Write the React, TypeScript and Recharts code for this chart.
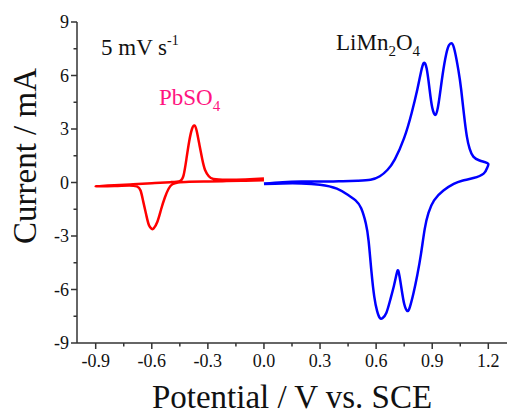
import { LineChart, Line, XAxis, YAxis } from "recharts";

// PbSO4 loop: cathodic sweep 0.0 -> -0.9, then anodic back to 0.0
const redPotential = [
  0.0, -0.1, -0.2, -0.3, -0.4, -0.46, -0.49, -0.51, -0.53, -0.55, -0.57, -0.59, -0.6, -0.615, -0.63, -0.645,
  -0.66, -0.68, -0.72, -0.8, -0.9,
  -0.8, -0.7, -0.6, -0.5, -0.45, -0.43, -0.415, -0.4, -0.385, -0.372, -0.36, -0.345, -0.33, -0.315, -0.295,
  -0.27, -0.2, -0.1, 0.0,
];
const redCurrent = [
  0.12, 0.1, 0.08, 0.06, 0.04, 0.0, -0.1, -0.35, -0.84, -1.5, -2.2, -2.58, -2.6, -2.4, -1.8, -1.1,
  -0.45, -0.22, -0.17, -0.2, -0.22,
  -0.15, -0.1, -0.04, 0.02, 0.08, 0.4, 1.3, 2.3, 3.0, 3.2, 2.9, 2.1, 1.3, 0.7, 0.35,
  0.2, 0.15, 0.17, 0.22,
];

// LiMn2O4 loop: anodic sweep 0.0 -> 1.2, then cathodic back to 0.0
const bluePotential = [
  0.0, 0.1, 0.2, 0.3, 0.4, 0.5, 0.57, 0.62, 0.66, 0.7, 0.75, 0.79, 0.82, 0.84, 0.855, 0.87, 0.885, 0.9,
  0.918, 0.935, 0.955, 0.975, 0.99, 1.005, 1.02, 1.04, 1.055, 1.07, 1.085, 1.1, 1.12, 1.15, 1.18, 1.2,
  1.195, 1.175, 1.12, 1.06, 1.015, 0.96, 0.91, 0.88, 0.86, 0.84, 0.82, 0.8, 0.78, 0.766, 0.75, 0.735,
  0.72, 0.71, 0.695, 0.675, 0.655, 0.635, 0.62, 0.605, 0.59, 0.575, 0.56, 0.545, 0.52, 0.49, 0.45, 0.39,
  0.3, 0.2, 0.1, 0.0,
];
const blueCurrent = [
  -0.06, 0.02, 0.05, 0.05, 0.07, 0.1, 0.15, 0.35, 0.7, 1.3, 2.5, 3.9, 5.2, 6.2, 6.7, 6.4, 5.3, 4.2,
  3.8, 4.5, 6.0, 7.2, 7.7, 7.8, 7.4, 6.3, 5.2, 3.8, 2.6, 1.9, 1.45, 1.25, 1.15, 1.05,
  0.85, 0.5, 0.25, 0.1, -0.08, -0.45, -1.0, -1.7, -2.6, -4.0, -5.2, -6.2, -7.0, -7.2, -6.8, -5.9,
  -5.0, -5.1, -5.8, -6.6, -7.3, -7.6, -7.6, -7.2, -6.4, -5.0, -3.3, -2.3, -1.45, -1.0, -0.7, -0.34,
  -0.12, -0.05, -0.05, -0.08,
];

const xMajorTicks = [-0.9, -0.6, -0.3, 0, 0.3, 0.6, 0.9, 1.2];
const xMinorTicks = [-0.75, -0.45, -0.15, 0.15, 0.45, 0.75, 1.05];
const yMajorTicks = [-9, -6, -3, 0, 3, 6, 9];
const yMinorTicks = [-7.5, -4.5, -1.5, 1.5, 4.5, 7.5];

const serif = "'Liberation Serif', 'Times New Roman', serif";
const axisColor = "#333";

const toRows = (xs: number[], ys: number[]) => xs.map((x, i) => ({ x, y: ys[i] }));
const isMajor = (v: number, list: number[]) => list.some((m) => Math.abs(m - v) < 1e-6);

const XTick = ({ x, y, payload }: any) => {
  const major = isMajor(payload.value, xMajorTicks);
  return (
    <g>
      <line x1={x} x2={x} y1={y} y2={y + (major ? 6 : 3.5)} stroke={axisColor} strokeWidth={1.5} />
      {major && (
        <text x={x} y={y + 24} textAnchor="middle" fontSize={18} style={{ fontFamily: serif }} fill="#111">
          {payload.value.toFixed(1)}
        </text>
      )}
    </g>
  );
};

const YTick = ({ x, y, payload }: any) => {
  const major = isMajor(payload.value, yMajorTicks);
  return (
    <g>
      <line x1={x} x2={x - (major ? 6 : 3.5)} y1={y} y2={y} stroke={axisColor} strokeWidth={1.5} />
      {major && (
        <text x={x - 8} y={y + 6} textAnchor="end" fontSize={18} style={{ fontFamily: serif }} fill="#111">
          {payload.value}
        </text>
      )}
    </g>
  );
};

export default function App() {
  const redRows = toRows(redPotential, redCurrent);
  const blueRows = toRows(bluePotential, blueCurrent);
  const xTicks = [...xMajorTicks, ...xMinorTicks].sort((a, b) => a - b);
  const yTicks = [...yMajorTicks, ...yMinorTicks].sort((a, b) => a - b);

  return (
    <div style={{ position: "absolute", left: 0, top: 0, width: 508, height: 414, background: "#fff" }}>
      <LineChart width={508} height={414} margin={{ top: 22, right: 1, bottom: 0, left: 0 }}>
        <XAxis
          dataKey="x"
          type="number"
          domain={[-1, 1.3]}
          ticks={xTicks}
          interval={0}
          height={71}
          tickSize={0}
          tickMargin={0}
          tickLine={false}
          tick={<XTick />}
          axisLine={{ stroke: axisColor, strokeWidth: 1.5 }}
          allowDataOverflow
        />
        <XAxis
          xAxisId="top"
          orientation="top"
          type="number"
          domain={[-1, 1.3]}
          height={0}
          tick={false}
          tickLine={false}
          axisLine={{ stroke: axisColor, strokeWidth: 1.5 }}
        />
        <YAxis
          type="number"
          domain={[-9, 9]}
          ticks={yTicks}
          interval={0}
          width={77}
          tickSize={0}
          tickMargin={0}
          tickLine={false}
          tick={<YTick />}
          axisLine={{ stroke: axisColor, strokeWidth: 1.5 }}
          allowDataOverflow
        />
        <YAxis
          yAxisId="right"
          orientation="right"
          type="number"
          domain={[-9, 9]}
          width={0}
          tick={false}
          tickLine={false}
          axisLine={{ stroke: "#bbb", strokeWidth: 1.5 }}
        />
        <Line
          data={redRows}
          dataKey="y"
          type="natural"
          stroke="#ff0000"
          strokeWidth={2.5}
          dot={false}
          isAnimationActive={false}
        />
        <Line
          data={blueRows}
          dataKey="y"
          type="natural"
          stroke="#0000ff"
          strokeWidth={2.5}
          dot={false}
          isAnimationActive={false}
        />
      </LineChart>
      <svg
        width={508}
        height={414}
        style={{ position: "absolute", left: 0, top: 0, pointerEvents: "none", fontFamily: serif }}
      >
        <text x={292} y={408} textAnchor="middle" fontSize={33} fill="#111">
          Potential / V vs. SCE
        </text>
        <text x={36} y={156} transform="rotate(-90 36 156)" textAnchor="middle" fontSize={33} fill="#111">
          Current / mA
        </text>
        <text x={101} y={55} fontSize={23} fill="#111">
          5 mV s<tspan fontSize={14} dy={-10}>-1</tspan>
        </text>
        <text x={159} y={105} fontSize={23} fill="#ff1480">
          PbSO<tspan fontSize={15} dy={6}>4</tspan>
        </text>
        <text x={336} y={50} fontSize={23} fill="#111">
          LiMn<tspan fontSize={15} dy={6}>2</tspan>
          <tspan fontSize={23} dy={-6}>O</tspan>
          <tspan fontSize={15} dy={6}>4</tspan>
        </text>
      </svg>
    </div>
  );
}
